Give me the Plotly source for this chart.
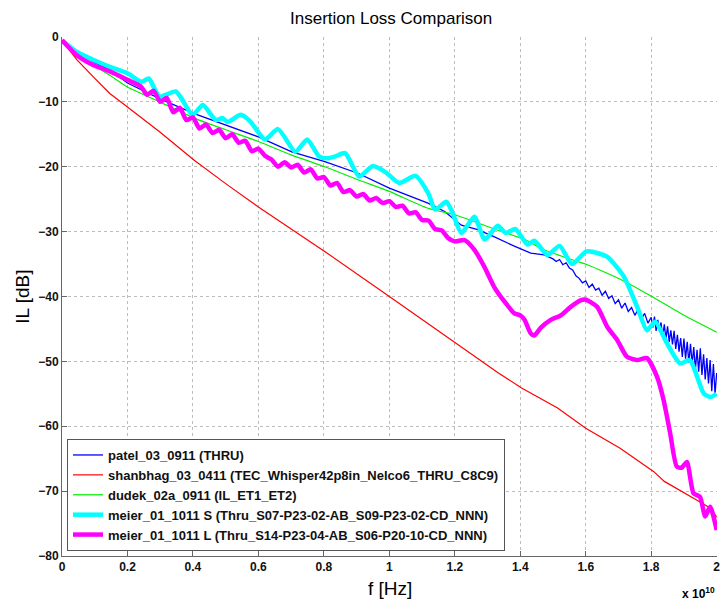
import plotly.graph_objects as go

# frequency in units of 1e10 Hz, insertion loss in dB
f_patel = [0, 0.045, 0.095, 0.146, 0.2, 0.298, 0.404, 0.5, 0.6, 0.702, 0.803, 0.904, 1.0, 1.118, 1.169,
           1.22, 1.27, 1.321, 1.38, 1.432, 1.473,
           1.50, 1.51, 1.52, 1.53, 1.54, 1.55, 1.56, 1.57, 1.58, 1.59, 1.60, 1.61, 1.62, 1.63, 1.64, 1.65,
           1.66, 1.67, 1.68, 1.69, 1.70, 1.71, 1.72, 1.73, 1.74, 1.75, 1.76, 1.77, 1.78, 1.79, 1.80,
           1.805, 1.81, 1.815, 1.82, 1.825, 1.83, 1.835, 1.84, 1.845, 1.85, 1.855, 1.86, 1.865, 1.87, 1.875,
           1.88, 1.885, 1.89, 1.895, 1.90, 1.905, 1.91, 1.915, 1.92, 1.925, 1.93, 1.935, 1.94, 1.945, 1.95,
           1.955, 1.96, 1.965, 1.97, 1.975, 1.98, 1.985, 1.99, 1.995, 2.0]
il_patel = [-0.5, -2.3, -3.8, -5.1, -7.1, -9.5, -11.8, -13.6, -15.4, -17.7, -19.2, -21.0, -23.3, -25.6, -26.9,
            -29.0, -29.7, -30.8, -32.2, -33.3, -33.6,
            -34.2, -34.6, -34.3, -35.1, -34.8, -35.6, -35.9, -36.8, -37.2, -37.9, -37.6, -38.6, -38.1, -39.0, -38.7, -39.8,
            -39.2, -40.3, -39.9, -41.1, -40.5, -41.8, -41.0, -42.3, -41.7, -42.9, -42.0, -43.4, -42.6, -44.1, -43.2,
            -44.8, -43.1, -45.3, -43.6, -45.1, -44.0, -46.2, -44.3, -46.5, -44.6, -47.0, -45.2, -47.4, -45.3, -48.1,
            -45.9, -48.5, -46.4, -49.3, -46.5, -49.6, -47.0, -50.2, -47.3, -50.4, -47.8, -51.3, -48.2, -51.6, -48.0,
            -52.1, -48.9, -52.8, -49.5, -53.4, -49.8, -54.6, -50.4, -55.0, -51.8]

f_shanbhag = [0, 0.045, 0.095, 0.146, 0.2, 0.298, 0.404, 0.5, 0.6, 0.702, 0.815, 1.0, 1.23, 1.331, 1.404,
              1.514, 1.6, 1.705, 1.808, 1.84, 1.94, 1.98, 2.0]
il_shanbhag = [-0.5, -3.5, -6.1, -8.7, -10.8, -14.6, -19.0, -22.6, -26.2, -29.6, -33.5, -40.0, -48.2, -51.7, -54.1,
               -57.2, -60.3, -63.4, -67.0, -68.5, -71.4, -72.6, -74.0]

f_dudek = [0, 0.045, 0.095, 0.146, 0.2, 0.298, 0.404, 0.5, 0.6, 0.702, 0.803, 0.904, 1.0, 1.118, 1.2, 1.321,
           1.422, 1.463, 1.574, 1.605, 1.716, 1.802, 1.9, 2.0]
il_dudek = [-0.5, -2.8, -4.3, -5.9, -7.7, -10.0, -12.5, -14.3, -16.1, -18.2, -20.0, -22.0, -23.8, -26.4, -27.4, -29.6,
            -31.4, -32.6, -34.6, -35.1, -37.6, -40.0, -42.9, -45.5]

f_meier_s = [0, 0.045, 0.095, 0.146, 0.2, 0.243, 0.265, 0.298, 0.348, 0.399, 0.43, 0.47, 0.49, 0.506, 0.546,
             0.575, 0.62, 0.66, 0.713, 0.749, 0.785, 0.81, 0.835, 0.865, 0.908, 0.95, 0.99, 1.03, 1.08, 1.119,
             1.14, 1.174, 1.194, 1.22, 1.26, 1.291, 1.331, 1.356, 1.385, 1.422, 1.443, 1.483, 1.52, 1.558, 1.6,
             1.62, 1.666, 1.716, 1.757, 1.787, 1.812, 1.848, 1.888, 1.918, 1.96, 1.98, 2.0]
il_meier_s = [-0.5, -2.3, -3.5, -4.6, -5.6, -6.9, -6.4, -9.2, -8.4, -12.0, -10.5, -12.8, -12.5, -13.1, -12.0,
              -13.0, -15.8, -14.2, -17.7, -15.8, -18.4, -18.7, -18.4, -17.9, -21.5, -19.9, -20.9, -22.5, -21.4, -24.1,
              -26.6, -25.4, -27.2, -30.2, -27.7, -31.2, -29.1, -30.2, -29.6, -32.0, -31.4, -33.6, -32.2, -35.0, -33.1,
              -33.1, -33.9, -36.9, -41.6, -45.2, -43.9, -47.2, -50.3, -49.8, -54.9, -55.5, -55.0]

f_meier_l = [0, 0.045, 0.095, 0.146, 0.2, 0.24, 0.26, 0.28, 0.30, 0.32, 0.34, 0.36, 0.38, 0.40, 0.42, 0.44,
             0.46, 0.48, 0.50, 0.52, 0.54, 0.56, 0.58, 0.60, 0.62, 0.64, 0.66, 0.68, 0.70, 0.72, 0.74, 0.76,
             0.78, 0.80, 0.82, 0.84, 0.86, 0.88, 0.90, 0.92, 0.94, 0.96, 0.98, 1.00, 1.02, 1.04, 1.06, 1.08,
             1.10, 1.12, 1.14, 1.16, 1.18, 1.20, 1.23, 1.26, 1.29, 1.32, 1.352, 1.382, 1.40, 1.413, 1.432, 1.443,
             1.463, 1.493, 1.524, 1.554, 1.584, 1.60, 1.635, 1.666, 1.696, 1.726, 1.757, 1.787, 1.818, 1.838,
             1.858, 1.878, 1.893, 1.909, 1.929, 1.949, 1.965, 1.98, 2.0]
il_meier_l = [-0.5, -2.8, -4.3, -5.3, -6.6, -7.6, -8.9, -8.3, -10.0, -9.4, -11.6, -10.9, -12.8, -12.4, -14.1, -13.5,
              -14.8, -14.3, -15.6, -15.0, -16.3, -16.0, -17.6, -17.2, -18.3, -18.9, -20.0, -19.3, -20.1, -19.7, -20.9, -20.4,
              -21.8, -21.6, -22.9, -22.5, -23.9, -23.6, -24.6, -24.2, -25.2, -24.8, -25.6, -25.3, -26.2, -26.0, -27.2, -27.0,
              -28.2, -28.3, -29.6, -29.8, -31.0, -31.5, -31.3, -32.8, -35.4, -38.5, -40.8, -42.6, -42.9, -43.6, -45.7, -46.0,
              -44.8, -43.6, -42.9, -41.6, -40.6, -40.5, -41.6, -44.7, -46.7, -49.3, -49.8, -49.5, -52.4, -56.0,
              -61.1, -66.2, -66.4, -65.5, -70.3, -70.9, -73.9, -72.4, -76.0]

names = ["patel_03_0911 (THRU)",
         "shanbhag_03_0411 (TEC_Whisper42p8in_Nelco6_THRU_C8C9)",
         "dudek_02a_0911 (IL_ET1_ET2)",
         "meier_01_1011 S (Thru_S07-P23-02-AB_S09-P23-02-CD_NNN)",
         "meier_01_1011 L (Thru_S14-P23-04-AB_S06-P20-10-CD_NNN)"]
colors = ["#0000ff", "#ff0000", "#00ee00", "#00ffff", "#ff00ff"]
widths = [1.3, 1.2, 1.2, 4.5, 4.5]
shapes = ["linear", "linear", "spline", "spline", "spline"]
xs = [f_patel, f_shanbhag, f_dudek, f_meier_s, f_meier_l]
ys = [il_patel, il_shanbhag, il_dudek, il_meier_s, il_meier_l]

x_ticks = [0, 0.2, 0.4, 0.6, 0.8, 1.0, 1.2, 1.4, 1.6, 1.8, 2.0]
x_ticktext = ["0", "0.2", "0.4", "0.6", "0.8", "1", "1.2", "1.4", "1.6", "1.8", "2"]
y_ticks = [0, -10, -20, -30, -40, -50, -60, -70, -80]

FONT = "Liberation Sans, Arial, Helvetica, sans-serif"
TICKFONT = dict(family=FONT, size=12, color="#111111", weight="bold")

fig = go.Figure()
for x, y, n, c, w, s in zip(xs, ys, names, colors, widths, shapes):
    fig.add_trace(go.Scatter(x=x, y=y, name=n, mode="lines",
                             line=dict(color=c, width=w, shape=s, smoothing=0.6)))

fig.update_layout(
    width=721, height=602,
    margin=dict(l=62, r=1, t=37, b=46),
    paper_bgcolor="white", plot_bgcolor="white",
    font=dict(family=FONT, color="black", size=13),
    title=dict(text="Insertion Loss Comparison", x=0.5425, xanchor="center",
               y=1 - 18 / 602, yanchor="middle", font=dict(size=17, color="black")),
    showlegend=True,
    legend=dict(x=0.0076, y=0.0096, xanchor="left", yanchor="bottom",
                bgcolor="white", bordercolor="#555555", borderwidth=1,
                font=dict(size=13, color="#111111", weight="bold"), tracegroupgap=0),
)
fig.update_xaxes(range=[0, 2.001], tickvals=x_ticks, ticktext=x_ticktext,
                 showgrid=True, gridcolor="#bdbdbd", griddash="dot", gridwidth=1,
                 zeroline=False, showline=True, linecolor="#666666", linewidth=1,
                 ticks="inside", ticklen=5, tickcolor="#666666",
                 ticklabeloverflow="allow", tickfont=TICKFONT)
fig.update_yaxes(range=[-80, 0], tickvals=y_ticks,
                 showgrid=True, gridcolor="#bdbdbd", griddash="dot", gridwidth=1,
                 zeroline=False, showline=True, linecolor="#666666", linewidth=1,
                 ticks="inside", ticklen=5, tickcolor="#666666",
                 ticklabeloverflow="allow", tickfont=TICKFONT)

fig.add_annotation(text="f [Hz]", xref="paper", yref="paper", x=0.5, y=-32 / 519,
                   xanchor="center", yanchor="middle", showarrow=False,
                   font=dict(size=19, color="black"))
fig.add_annotation(text="IL [dB]", xref="paper", yref="paper", x=-40 / 658, y=0.5,
                   xanchor="center", yanchor="middle", showarrow=False, textangle=-90,
                   font=dict(size=19, color="black"))
fig.add_annotation(text="x 10<sup>10</sup>", xref="paper", yref="paper", x=1.0, y=-37 / 519,
                   xanchor="right", yanchor="middle", showarrow=False,
                   font=dict(size=12, color="black", weight="bold"))

fig.write_html("out.html")
